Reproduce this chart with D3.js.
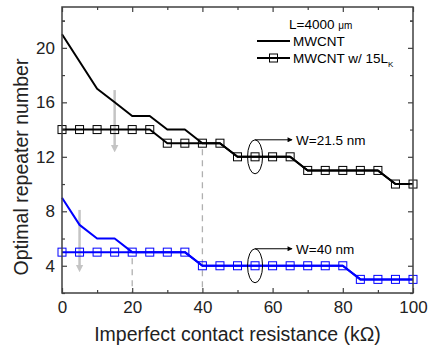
<!DOCTYPE html>
<html>
<head>
<meta charset="utf-8">
<script src="https://cdn.jsdelivr.net/npm/d3@7"></script>
<style>
  body { margin: 0; background: #fff; }
  text { font-family: "Liberation Sans", Arial, sans-serif; }
</style>
</head>
<body>
<div id="chart"></div>
<script>
// contact resistance (kOhm)
var resistance = [0, 5, 10, 15, 20, 25, 30, 35, 40, 45, 50, 55, 60, 65, 70, 75, 80, 85, 90, 95, 100];

// W = 21.5 nm
var wide = [21, 19, 17, 16, 15, 15, 14, 14, 13, 13, 12, 12, 12, 12, 11, 11, 11, 11, 11, 10, 10];
var wideLk = [14, 14, 14, 14, 14, 14, 13, 13, 13, 13, 12, 12, 12, 12, 11, 11, 11, 11, 11, 10, 10];

// W = 40 nm
var narrow = [9, 7, 6, 6, 5, 5, 5, 5, 4, 4, 4, 4, 4, 4, 4, 4, 4, 3, 3, 3, 3];
var narrowLk = [5, 5, 5, 5, 5, 5, 5, 5, 4, 4, 4, 4, 4, 4, 4, 4, 4, 3, 3, 3, 3];

var xTicks = [0, 20, 40, 60, 80, 100];
var yTicks = [4, 8, 12, 16, 20];

var width = 430, height = 347;
var margin = {left: 62, right: 17, top: 7, bottom: 54};

var svg = d3.select("#chart").append("svg")
    .attr("width", width)
    .attr("height", height);

var x = d3.scaleLinear().domain([0, 100]).range([margin.left, width - margin.right]);
var y = d3.scaleLinear().domain([2, 23]).range([height - margin.bottom, margin.top]);

var defs = svg.append("defs");
defs.append("marker")
    .attr("id", "grayHead")
    .attr("viewBox", "0 0 10 10")
    .attr("refX", 5).attr("refY", 5)
    .attr("markerWidth", 3).attr("markerHeight", 4)
    .attr("markerUnits", "strokeWidth")
    .attr("orient", "auto")
    .append("path").attr("d", "M0,0 L10,5 L0,10 Z").attr("fill", "#c4c4c4");
defs.append("marker")
    .attr("id", "blackHead")
    .attr("viewBox", "0 0 10 10")
    .attr("refX", 9).attr("refY", 5)
    .attr("markerWidth", 8).attr("markerHeight", 5)
    .attr("markerUnits", "userSpaceOnUse")
    .attr("orient", "auto")
    .append("path").attr("d", "M0,0 L10,5 L0,10 Z").attr("fill", "black");

// dashed guides
var guides = [
    {x: 40, y0: 13, y1: 2},
    {x: 20, y0: 5, y1: 2}
];
svg.selectAll(".guide").data(guides).enter().append("line")
    .attr("x1", d => x(d.x)).attr("x2", d => x(d.x))
    .attr("y1", d => y(d.y0) + 6).attr("y2", d => y(d.y1))
    .attr("stroke", "#b0b0b0")
    .attr("stroke-width", 1.3)
    .attr("stroke-dasharray", "6,5");

// gray arrows
var grayArrows = [
    {x: 15, from: 16.9, to: 12.6},
    {x: 5, from: 8.1, to: 3.8}
];
svg.selectAll(".garrow").data(grayArrows).enter().append("line")
    .attr("x1", d => x(d.x)).attr("x2", d => x(d.x))
    .attr("y1", d => y(d.from)).attr("y2", d => y(d.to))
    .attr("stroke", "#c4c4c4")
    .attr("stroke-width", 2.5)
    .attr("marker-end", "url(#grayHead)");

var line = d3.line()
    .x((d, i) => x(resistance[i]))
    .y(d => y(d));

var series = [
    {values: wide, color: "black", squares: false},
    {values: wideLk, color: "black", squares: true},
    {values: narrow, color: "#0000ff", squares: false},
    {values: narrowLk, color: "#0000ff", squares: true}
];

series.forEach(function(s) {
    svg.append("path")
        .attr("d", line(s.values))
        .attr("fill", "none")
        .attr("stroke", s.color)
        .attr("stroke-width", 2)
        .attr("stroke-linejoin", "round");
    if (s.squares) {
        svg.selectAll(null).data(s.values).enter().append("rect")
            .attr("x", (d, i) => x(resistance[i]) - 4)
            .attr("y", d => y(d) - 4)
            .attr("width", 8).attr("height", 8)
            .attr("fill", "none")
            .attr("stroke", s.color)
            .attr("stroke-width", 1);
    }
});

// ellipses with width labels
var callouts = [
    {x: 55, y: 12, label: "W=21.5 nm"},
    {x: 55, y: 4, label: "W=40 nm"}
];
callouts.forEach(function(c) {
    var cx = x(c.x), cy = y(c.y);
    svg.append("ellipse")
        .attr("cx", cx).attr("cy", cy)
        .attr("rx", 7.5).attr("ry", 17)
        .attr("fill", "none")
        .attr("stroke", "black")
        .attr("stroke-width", 1);
    svg.append("line")
        .attr("x1", cx).attr("x2", cx + 37)
        .attr("y1", cy - 17).attr("y2", cy - 17)
        .attr("stroke", "black")
        .attr("stroke-width", 1)
        .attr("marker-end", "url(#blackHead)");
    svg.append("text")
        .attr("x", cx + 41).attr("y", cy - 12)
        .attr("font-size", 13.5)
        .text(c.label);
});

// frame + axes
var frameColor = "#404040";
svg.append("rect")
    .attr("x", margin.left).attr("y", margin.top)
    .attr("width", width - margin.left - margin.right)
    .attr("height", height - margin.top - margin.bottom)
    .attr("fill", "none")
    .attr("stroke", frameColor)
    .attr("stroke-width", 1.5);

var xMinor = d3.range(10, 100, 20);
var yMinor = d3.range(2, 23, 4).concat([22]);

function tickStyle(g) {
    g.select(".domain").remove();
    g.selectAll(".tick line").attr("stroke", frameColor).attr("stroke-width", 1.2);
}

svg.append("g")
    .attr("transform", "translate(0," + y.range()[0] + ")")
    .call(d3.axisBottom(x).tickValues(xTicks).tickSizeInner(-5).tickSizeOuter(0).tickPadding(8))
    .call(tickStyle)
    .call(g => g.selectAll("text").attr("font-size", 17).attr("fill", "#222").attr("font-family", "Liberation Sans, Arial, sans-serif"));
svg.append("g")
    .attr("transform", "translate(0," + y.range()[0] + ")")
    .call(d3.axisBottom(x).tickValues(xMinor).tickSizeInner(-3).tickSizeOuter(0).tickFormat(""))
    .call(tickStyle);
svg.append("g")
    .attr("transform", "translate(0," + y.range()[1] + ")")
    .call(d3.axisTop(x).tickValues(xTicks).tickSizeInner(-5).tickSizeOuter(0).tickFormat(""))
    .call(tickStyle);
svg.append("g")
    .attr("transform", "translate(0," + y.range()[1] + ")")
    .call(d3.axisTop(x).tickValues(xMinor).tickSizeInner(-3).tickSizeOuter(0).tickFormat(""))
    .call(tickStyle);

svg.append("g")
    .attr("transform", "translate(" + x.range()[0] + ",0)")
    .call(d3.axisLeft(y).tickValues(yTicks).tickSizeInner(-5).tickSizeOuter(0).tickPadding(7))
    .call(tickStyle)
    .call(g => g.selectAll("text").attr("font-size", 17).attr("fill", "#222").attr("font-family", "Liberation Sans, Arial, sans-serif"));
svg.append("g")
    .attr("transform", "translate(" + x.range()[0] + ",0)")
    .call(d3.axisLeft(y).tickValues(yMinor).tickSizeInner(-3).tickSizeOuter(0).tickFormat(""))
    .call(tickStyle);
svg.append("g")
    .attr("transform", "translate(" + x.range()[1] + ",0)")
    .call(d3.axisRight(y).tickValues(yTicks).tickSizeInner(-5).tickSizeOuter(0).tickFormat(""))
    .call(tickStyle);
svg.append("g")
    .attr("transform", "translate(" + x.range()[1] + ",0)")
    .call(d3.axisRight(y).tickValues(yMinor).tickSizeInner(-3).tickSizeOuter(0).tickFormat(""))
    .call(tickStyle);

// axis titles
svg.append("text")
    .attr("x", (x.range()[0] + x.range()[1]) / 2)
    .attr("y", 341)
    .attr("text-anchor", "middle")
    .attr("font-size", 19.5)
    .attr("fill", "#222")
    .text("Imperfect contact resistance (k\u03A9)");
svg.append("text")
    .attr("transform", "translate(28,167) rotate(-90)")
    .attr("text-anchor", "middle")
    .attr("font-size", 19.5)
    .attr("fill", "#222")
    .text("Optimal repeater number");

// legend
var legend = svg.append("g");
var lt = legend.append("text").attr("x", 289).attr("y", 29).attr("font-size", 13.5);
lt.append("tspan").text("L=4000 ");
lt.append("tspan").attr("font-size", 10).text("\u03BCm");

var legendItems = [
    {label: "MWCNT", sub: null, squares: false, y: 41},
    {label: "MWCNT w/ 15L", sub: "K", squares: true, y: 58}
];
legendItems.forEach(function(item) {
    legend.append("line")
        .attr("x1", 257).attr("x2", 290)
        .attr("y1", item.y).attr("y2", item.y)
        .attr("stroke", "black").attr("stroke-width", 2);
    if (item.squares) {
        legend.append("rect")
            .attr("x", 269.5).attr("y", item.y - 4)
            .attr("width", 8).attr("height", 8)
            .attr("fill", "none").attr("stroke", "black").attr("stroke-width", 1);
    }
    var t = legend.append("text").attr("x", 293).attr("y", item.y + 5).attr("font-size", 13.5);
    t.append("tspan").text(item.label);
    if (item.sub) {
        t.append("tspan").attr("font-size", 8).attr("dy", 4).text(item.sub);
    }
});
</script>
</body>
</html>
